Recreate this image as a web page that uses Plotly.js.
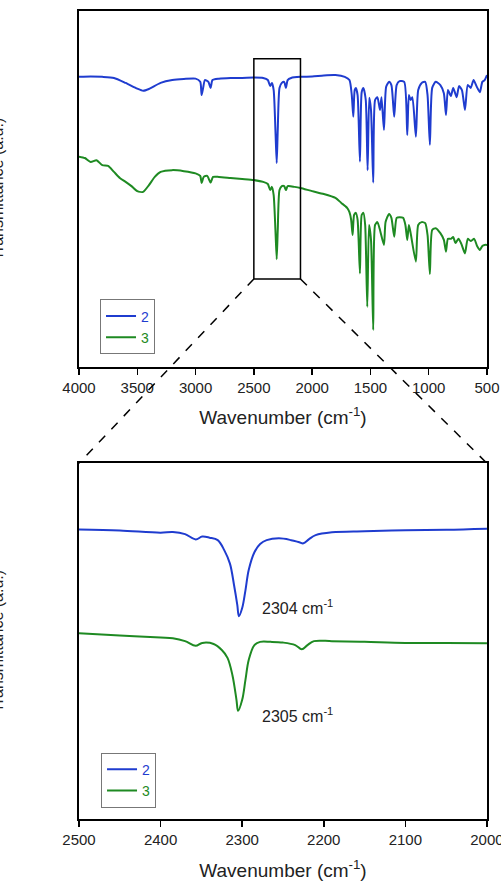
<!DOCTYPE html>
<html>
<head>
<meta charset="utf-8">
<script src="https://cdn.plot.ly/plotly-3.0.1.min.js"></script>
<style>html,body{margin:0;padding:0;background:#fff;}#chart{width:501px;height:881px;}</style>
</head>
<body>
<div id="chart"></div>
<script>
// ---- Data ----
const seriesNames = ['2', '3'];
const seriesColors = ['#1f3ccf', '#1e8a22'];

// Full spectrum, compound 2
const fullWn2 = [4000,3900,3800,3700,3600,3500,3450,3400,3300,3200,3100,3000,2960,2948,2935,2920,2890,2871,2855,2800,2700,2600,2500,2420,2380,2360,2345,2330,2315,2304,2295,2280,2260,2240,2225,2210,2180,2100,2000,1900,1800,1720,1680,1660,1647,1635,1625,1610,1590,1575,1560,1540,1524,1510,1495,1476,1460,1440,1418,1405,1384,1365,1340,1320,1296,1275,1250,1210,1184,1170,1155,1140,1110,1090,1060,1030,1010,990,970,940,900,870,852,835,810,790,760,740,715,689,665,640,615,590,561,540,520,500];
const fullT2 = [81.5,81.6,81.5,81.2,79.8,78.2,77.6,78.1,79.8,80.6,80.9,81.0,80.1,76.4,78.4,80.6,80.1,78.4,80.6,81.0,81.2,81.2,81.3,81.2,80.6,78.9,79.8,77.8,66.6,57.3,66.6,78.4,79.8,80.1,78.4,80.6,81.2,81.5,81.6,81.9,82.0,81.5,80.6,76.4,70.3,77.8,78.4,76.4,57.7,77.2,78.4,75.0,55.3,75.6,72.2,51.8,75.0,75.8,72.2,75.8,66.6,78.7,80.1,79.2,70.3,79.2,80.3,80.1,65.2,76.4,75.0,75.8,64.7,77.8,79.8,80.1,76.4,62.4,78.4,80.1,79.2,76.9,70.8,77.8,76.1,78.4,75.8,78.9,77.8,72.2,79.2,78.4,80.6,78.9,77.2,80.1,80.6,82.0];

// Full spectrum, compound 3
const fullWn3 = [4000,3950,3900,3850,3800,3750,3700,3650,3600,3550,3500,3450,3400,3350,3300,3200,3100,3000,2960,2948,2930,2900,2871,2850,2800,2700,2600,2500,2420,2380,2360,2345,2330,2315,2304,2295,2280,2260,2240,2225,2210,2150,2100,2000,1900,1800,1750,1700,1680,1665,1653,1640,1625,1610,1590,1575,1560,1545,1527,1512,1495,1476,1460,1440,1418,1384,1370,1340,1320,1296,1275,1250,1220,1200,1184,1170,1155,1110,1090,1060,1030,1010,990,970,940,900,870,852,835,810,790,770,745,720,689,665,640,610,585,561,540,520,500];
const fullT3 = [59.1,58.7,57.6,58.1,56.7,56.5,54.8,53.1,52.0,50.8,49.4,49.2,51.1,53.4,54.8,55.3,55.0,54.4,53.7,51.7,53.4,53.7,51.8,53.4,53.4,53.1,52.8,52.5,52.0,51.4,49.7,50.6,48.3,38.5,30.3,38.5,49.7,50.8,50.8,49.7,50.8,50.6,50.3,49.4,48.6,47.5,46.1,44.7,43.5,41.3,37.1,42.7,43.3,41.3,26.3,42.7,43.3,39.9,16.9,39.9,35.7,10.4,39.9,40.7,38.5,34.3,40.7,43.0,41.9,36.6,41.9,42.1,41.9,39.9,35.7,39.9,37.6,29.6,39.9,40.7,40.4,37.1,26.1,38.5,39.0,37.6,35.7,32.4,36.0,36.0,36.5,34.8,36.0,34.6,31.9,36.0,35.4,36.0,34.0,32.9,34.0,34.3,34.3];

// Expanded region 2500-2000 cm-1, compound 2
const zoomWn2 = [2500,2450,2400,2385,2370,2357,2349,2340,2330,2322,2315,2310,2306,2304,2300,2296,2292,2285,2278,2270,2255,2240,2230,2225,2218,2210,2190,2150,2100,2050,2000];
const zoomT2 = [81.4,81.1,80.5,80.7,80.1,78.6,79.4,79.1,78.4,75.6,71.8,65.8,60.2,57.0,59.3,64.3,70.0,75.0,77.3,78.4,78.9,78.4,77.8,77.5,78.7,79.8,80.6,80.9,81.2,81.3,81.6];

// Expanded region 2500-2000 cm-1, compound 3
const zoomWn3 = [2500,2450,2400,2385,2370,2357,2349,2335,2325,2318,2312,2307,2305,2300,2296,2292,2285,2278,2265,2250,2235,2227,2220,2212,2190,2150,2100,2050,2000];
const zoomT3 = [52.2,51.6,51.0,50.8,50.0,48.7,49.5,49.2,47.5,45.3,40.5,33.5,30.4,33.5,39.1,44.7,48.9,49.8,49.8,49.6,48.9,47.7,48.9,50.0,50.0,49.8,49.5,49.5,49.4];

// Peak labels
const peakLabelT = [59.7, 29.2];
const peakLabelText = ['2304 cm<sup>-1</sup>', '2305 cm<sup>-1</sup>'];
const peakLabelWn = 2278;

// Axis ticks
const fullTicks = [4000,3500,3000,2500,2000,1500,1000,500];
const zoomTicks = [2500,2400,2300,2200,2100,2000];
const fullRange = [4000, 499.9];
const zoomRange = [2500, 1999.95];
const boxRegion = [2500, 2100];

// ---- Build figure ----
const FONT = 'Liberation Sans, Arial, Helvetica, sans-serif';
function legendName(i){ return '<span style="color:' + seriesColors[i] + '">' + seriesNames[i] + '</span>'; }

const traces = [
  {x: fullWn2, y: fullT2, xaxis:'x', yaxis:'y', legend:'legend', name: legendName(0)},
  {x: fullWn3, y: fullT3, xaxis:'x', yaxis:'y', legend:'legend', name: legendName(1)},
  {x: zoomWn2, y: zoomT2, xaxis:'x2', yaxis:'y2', legend:'legend2', name: legendName(0)},
  {x: zoomWn3, y: zoomT3, xaxis:'x2', yaxis:'y2', legend:'legend2', name: legendName(1)}
].map((t, k) => Object.assign(t, {
  type: 'scatter', mode: 'lines',
  line: {color: seriesColors[k % 2], width: 2, shape: 'spline', smoothing: k < 2 ? 0.6 : 1},
  hoverinfo: 'skip'
}));

const axisCommon = {
  showline: true, linecolor: '#000', linewidth: 2, mirror: true,
  showgrid: false, zeroline: false
};
const xCommon = Object.assign({}, axisCommon, {
  ticks: 'outside', ticklen: 6, tickwidth: 1.5, tickcolor: '#000',
  tickfont: {family: FONT, size: 15, color: '#222'},
  tickmode: 'array', ticklabeloverflow: 'allow'
});
const yCommon = Object.assign({}, axisCommon, {
  ticks: '', showticklabels: false, range: [0, 100], fixedrange: true
});
const titleText = 'Wavenumber (cm<sup>-1</sup>)';

const topDomain = [0.5594, 1];
const botDomain = [0, 0.4402];
const boxY = [0.6683, 0.941];

const fx = v => (fullRange[0] - v) / (fullRange[0] - fullRange[1]);

const layout = {
  width: 501, height: 881,
  margin: {l: 79, r: 14, t: 11, b: 62},
  paper_bgcolor: '#fff', plot_bgcolor: '#fff',
  font: {family: FONT, color: '#222'},
  xaxis: Object.assign({}, xCommon, {anchor: 'y', range: fullRange, tickvals: fullTicks,
    title: {text: titleText, font: {family: FONT, size: 19, color: '#222'}, standoff: 16}}),
  yaxis: Object.assign({}, yCommon, {anchor: 'x', domain: topDomain}),
  xaxis2: Object.assign({}, xCommon, {anchor: 'y2', range: zoomRange, tickvals: zoomTicks,
    title: {text: titleText, font: {family: FONT, size: 19, color: '#222'}, standoff: 18}}),
  yaxis2: Object.assign({}, yCommon, {anchor: 'x2', domain: botDomain}),
  showlegend: true,
  legend: {x: 0.0515, y: 0.643, xanchor: 'left', yanchor: 'top', bgcolor: '#fff',
    bordercolor: '#777', borderwidth: 1, font: {family: FONT, size: 14}, tracegroupgap: 0, itemwidth: 30},
  legend2: {x: 0.054, y: 0.082, xanchor: 'left', yanchor: 'top', bgcolor: '#fff',
    bordercolor: '#777', borderwidth: 1, font: {family: FONT, size: 14}, tracegroupgap: 0, itemwidth: 30},
  shapes: [
    {type: 'rect', xref: 'x', yref: 'paper', x0: boxRegion[0], x1: boxRegion[1], y0: boxY[0], y1: boxY[1],
      line: {color: '#000', width: 1.5}},
    {type: 'line', xref: 'paper', yref: 'paper', x0: fx(boxRegion[0]), y0: boxY[0], x1: 0, y1: botDomain[1],
      line: {color: '#000', width: 1.5, dash: 'dash'}},
    {type: 'line', xref: 'paper', yref: 'paper', x0: fx(boxRegion[1]), y0: boxY[0], x1: 1, y1: botDomain[1],
      line: {color: '#000', width: 1.5, dash: 'dash'}}
  ],
  annotations: [
    {xref: 'x2', yref: 'y2', x: peakLabelWn, y: peakLabelT[0], xanchor: 'left', yanchor: 'middle', showarrow: false,
      text: peakLabelText[0], font: {family: FONT, size: 16, color: '#222'}},
    {xref: 'x2', yref: 'y2', x: peakLabelWn, y: peakLabelT[1], xanchor: 'left', yanchor: 'middle', showarrow: false,
      text: peakLabelText[1], font: {family: FONT, size: 16, color: '#222'}},
    {xref: 'paper', yref: 'paper', x: -0.226, y: (topDomain[0] + topDomain[1]) / 2, showarrow: false,
      xanchor: 'left', yanchor: 'middle',
      textangle: -90, text: 'Transmittance (a.u.)', font: {family: FONT, size: 16, color: '#222'}},
    {xref: 'paper', yref: 'paper', x: -0.226, y: (botDomain[0] + botDomain[1]) / 2, showarrow: false,
      xanchor: 'left', yanchor: 'middle',
      textangle: -90, text: 'Transmittance (a.u.)', font: {family: FONT, size: 16, color: '#222'}}
  ]
};

Plotly.newPlot('chart', traces, layout, {displayModeBar: false, staticPlot: true});
</script>
</body>
</html>
